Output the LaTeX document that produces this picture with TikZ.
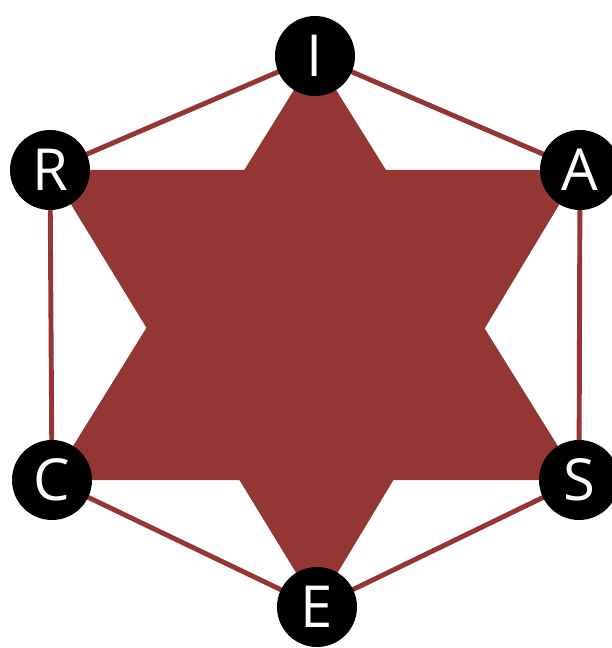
\documentclass[tikz,border=0pt]{standalone}
\usepackage{fontspec}
\setsansfont{Open Sans}
\usetikzlibrary{backgrounds}
\definecolor{riasec}{HTML}{943634}
\tikzset{
  letter/.style={circle,fill=black,text=white,minimum size=1.6cm,inner sep=0pt,
    font=\sffamily\fontsize{33}{33}\selectfont},
  edge/.style={draw=riasec,line width=2.8pt}
}

\begin{document}
\begin{tikzpicture}[x=0.02cm,y=-0.02cm]
\useasboundingbox (0,0) rectangle (611,648);
\node[letter] (I) at (315, 56) {I};
\node[letter] (A) at (580, 170) {A};
\node[letter] (S) at (579, 480) {S};
\node[letter] (E) at (317, 607) {E};
\node[letter] (C) at (52, 480) {C};
\node[letter] (R) at (50, 170) {R};

\begin{pgfonlayer}{background}
% outer hexagon
\draw[edge] (I.center) -- (A.center) -- (S.center) -- (E.center) -- (C.center) -- (R.center) -- cycle;
% star
\fill[riasec] (I.center) -- (S.center) -- (C.center) -- cycle;
\fill[riasec] (R.center) -- (A.center) -- (E.center) -- cycle;
\end{pgfonlayer}
\end{tikzpicture}
\end{document}
